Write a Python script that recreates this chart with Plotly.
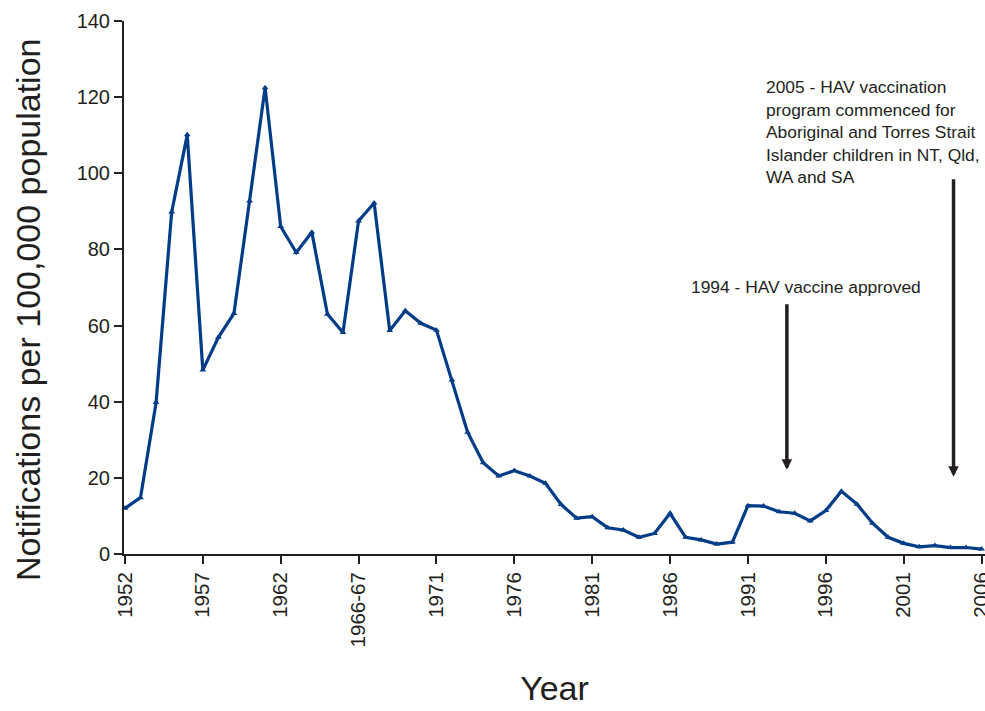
import plotly.graph_objects as go

# Notification periods (calendar years, with the 1966-67 reporting period)
periods = [
    "1952", "1953", "1954", "1955", "1956", "1957", "1958", "1959", "1960", "1961",
    "1962", "1963", "1964", "1965", "1966", "1966-67", "1967", "1968", "1969", "1970",
    "1971", "1972", "1973", "1974", "1975", "1976", "1977", "1978", "1979", "1980",
    "1981", "1982", "1983", "1984", "1985", "1986", "1987", "1988", "1989", "1990",
    "1991", "1992", "1993", "1994", "1995", "1996", "1997", "1998", "1999", "2000",
    "2001", "2002", "2003", "2004", "2005", "2006",
]

# Hepatitis A notifications per 100,000 population
rates = [
    12.0, 14.8, 39.8, 89.8, 110.1, 48.3, 56.9, 63.2, 92.7, 122.5,
    86.0, 79.2, 84.5, 63.0, 58.2, 87.5, 92.2, 58.7, 63.9, 60.6,
    58.8, 45.7, 32.0, 24.0, 20.5, 21.9, 20.5, 18.6, 13.0, 9.4,
    9.8, 6.9, 6.3, 4.4, 5.4, 10.7, 4.4, 3.7, 2.6, 3.1,
    12.7, 12.6, 11.1, 10.7, 8.7, 11.4, 16.5, 13.1, 8.1, 4.4,
    2.8, 1.9, 2.2, 1.7, 1.7, 1.3,
]

# Labelled ticks: every fifth period
tick_labels = periods[::5]
y_ticks = [0, 20, 40, 60, 80, 100, 120, 140]

# Vaccine milestones: (x position on the period axis, arrow tip, arrow tail, label)
milestones_x = [42.5, 53.2]
milestones_tip = [22.1, 20.3]
milestones_tail = [66.0, 98.8]
milestone_texts = [
    "1994 - HAV vaccine approved",
    "2005 - HAV vaccination<br>program commenced for<br>Aboriginal and Torres Strait"
    "<br>Islander children in NT, Qld,<br>WA and SA",
]

LINE_BLUE = "#003c87"
INK = "#231f20"
FONT = "Liberation Sans, Arial, sans-serif"

W, H = 985, 711
plot_left, plot_right, plot_top, plot_bottom = 124, 985, 21, 554


def px_to_paper(px, py):
    """Pixel position on the page -> paper coordinates of the plot area."""
    return ((px - plot_left) / (plot_right - plot_left),
            (plot_bottom - py) / (plot_bottom - plot_top))


fig = go.Figure()
fig.add_trace(go.Scatter(
    x=periods,
    y=rates,
    mode="lines+markers",
    line=dict(color=LINE_BLUE, width=3.2),
    marker=dict(symbol="triangle-up", size=6, color=LINE_BLUE),
    showlegend=False,
    cliponaxis=False,
))

# Arrows marking the milestones
for x, tip, tail in zip(milestones_x, milestones_tip, milestones_tail):
    fig.add_annotation(
        x=x, y=tip, ax=x, ay=tail,
        xref="x", yref="y", axref="x", ayref="y",
        text="", showarrow=True,
        arrowhead=2, arrowsize=0.6, arrowwidth=3.5, arrowcolor=INK,
    )

# Milestone labels
x0, y0 = px_to_paper(689, 287)
fig.add_annotation(
    x=x0, y=y0, xref="paper", yref="paper", text=milestone_texts[0],
    showarrow=False, xanchor="left", yanchor="middle", align="left",
    font=dict(family=FONT, size=17.4, color=INK),
)
x1, y1 = px_to_paper(764, 132)
fig.add_annotation(
    x=x1, y=y1, xref="paper", yref="paper", text=milestone_texts[1],
    showarrow=False, xanchor="left", yanchor="middle", align="left",
    font=dict(family=FONT, size=17.4, color=INK),
)

# Vertical value-axis title
tx, ty = px_to_paper(28, 310)
fig.add_annotation(
    x=tx, y=ty, xref="paper", yref="paper",
    text="Notifications per 100,000 population", textangle=-90,
    showarrow=False, xanchor="center", yanchor="middle",
    font=dict(family=FONT, size=34, color=INK),
)

fig.update_layout(
    width=W,
    height=H,
    margin=dict(l=plot_left, r=W - plot_right, t=plot_top, b=H - plot_bottom),
    plot_bgcolor="white",
    paper_bgcolor="white",
    font=dict(family=FONT, color=INK),
)

fig.update_xaxes(
    type="category",
    categoryorder="array",
    categoryarray=periods,
    range=[-0.06, 55.22],
    automargin=False,
    tickmode="array",
    tickvals=tick_labels,
    ticktext=tick_labels,
    tickangle=-90,
    ticks="outside",
    ticklen=8,
    tickwidth=2,
    tickcolor=INK,
    tickfont=dict(family=FONT, size=20.5, color=INK),
    showline=True,
    linecolor=INK,
    linewidth=2,
    showgrid=False,
    zeroline=False,
    title=dict(text="Year", font=dict(family=FONT, size=34, color=INK), standoff=30),
)

fig.update_yaxes(
    range=[0, 140],
    automargin=False,
    tickmode="array",
    tickvals=y_ticks,
    ticks="outside",
    ticklen=8,
    tickwidth=2,
    tickcolor=INK,
    tickfont=dict(family=FONT, size=20, color=INK),
    showline=True,
    linecolor=INK,
    linewidth=2,
    showgrid=False,
    zeroline=False,
)

fig.write_html("out.html")
